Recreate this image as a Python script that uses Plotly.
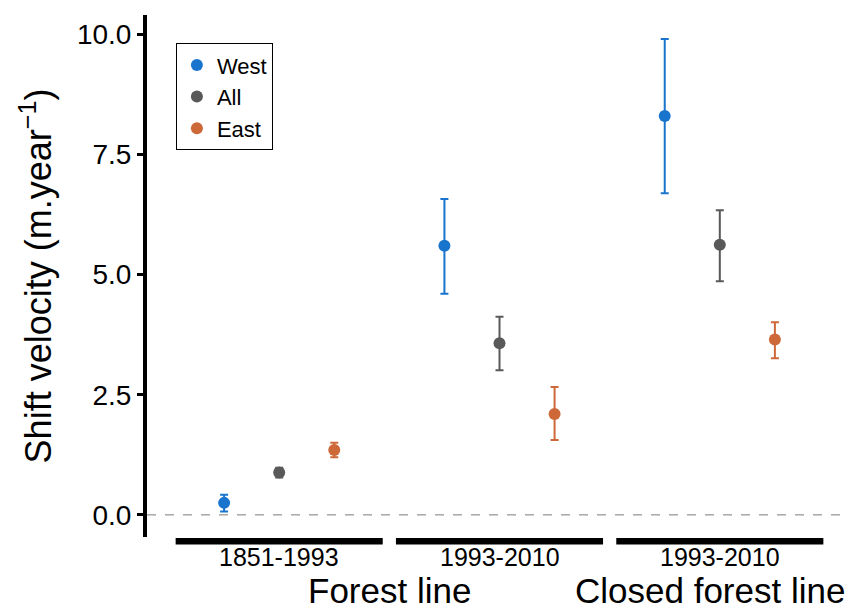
import plotly.graph_objects as go

groups = ["1851-1993", "1993-2010", "1993-2010"]
group_x = [1, 2, 3]
series = ["West", "All", "East"]
offsets = [-0.25, 0.0, 0.25]
colors = ["#1874CD", "#595959", "#CD6839"]

values = {
    "West": [0.25, 5.60, 8.30],
    "All": [0.88, 3.57, 5.62],
    "East": [1.35, 2.10, 3.65],
}
err_hi = {
    "West": [0.42, 6.57, 9.90],
    "All": [0.98, 4.12, 6.34],
    "East": [1.50, 2.66, 4.01],
}
err_lo = {
    "West": [0.07, 4.60, 6.69],
    "All": [0.78, 3.01, 4.86],
    "East": [1.20, 1.56, 3.26],
}

xlabels = ["Forest line", "Closed forest line"]
xlabel_x = [1.5, 2.955]

fig = go.Figure()
for s, off, c in zip(series, offsets, colors):
    xs = [g + off for g in group_x]
    v = values[s]
    fig.add_trace(go.Scatter(
        x=xs, y=v, mode="markers", name=s,
        marker=dict(color=c, size=12, symbol="circle"),
        error_y=dict(type="data", symmetric=False,
                     array=[h - m for h, m in zip(err_hi[s], v)],
                     arrayminus=[m - l for l, m in zip(err_lo[s], v)],
                     color=c, thickness=2, width=4),
    ))

fig.add_hline(y=0, line=dict(color="#7a7a7a", width=1, dash="dash"))

# black group bars below plot
for g in group_x:
    fig.add_shape(type="line", xref="x", yref="paper",
                  x0=g - 0.47, x1=g + 0.47, y0=-0.008, y1=-0.008,
                  line=dict(color="black", width=6.5))

for g, lab in zip(group_x, groups):
    fig.add_annotation(x=g, y=-0.038, xref="x", yref="paper", text=lab,
                       showarrow=False, yanchor="middle",
                       font=dict(size=25, color="black", family="Liberation Sans"))

for xx, lab in zip(xlabel_x, xlabels):
    fig.add_annotation(x=xx, y=-0.102, xref="x", yref="paper", text=lab,
                       showarrow=False, yanchor="middle",
                       font=dict(size=35, color="black", family="Liberation Sans"))

fig.update_layout(
    width=847, height=601,
    margin=dict(l=139, r=3, t=7, b=72),
    paper_bgcolor="white", plot_bgcolor="white",
    font=dict(family="Liberation Sans", color="black"),
    showlegend=True,
    legend=dict(x=0.041, y=0.946, xanchor="left", yanchor="top",
                bordercolor="black", borderwidth=1, bgcolor="white",
                font=dict(size=22, color="black"), itemsizing="constant",
                tracegroupgap=0),
    xaxis=dict(range=[0.4, 3.6], showgrid=False, zeroline=False,
               showticklabels=False, ticks="", showline=False),
    yaxis=dict(range=[-0.46, 10.4], showgrid=False, zeroline=False,
               tickvals=[0, 2.5, 5, 7.5, 10],
               ticktext=["0.0", "2.5", "5.0", "7.5", "10.0"],
               ticks="outside", ticklen=6, tickwidth=3, tickcolor="black",
               showline=True, linewidth=4, linecolor="black",
               tickfont=dict(size=28, color="black"),
               title=dict(text="Shift velocity (m.year<sup>−1</sup>)",
                          font=dict(size=36, color="black"), standoff=15)),
)

fig.write_html("out.html")
